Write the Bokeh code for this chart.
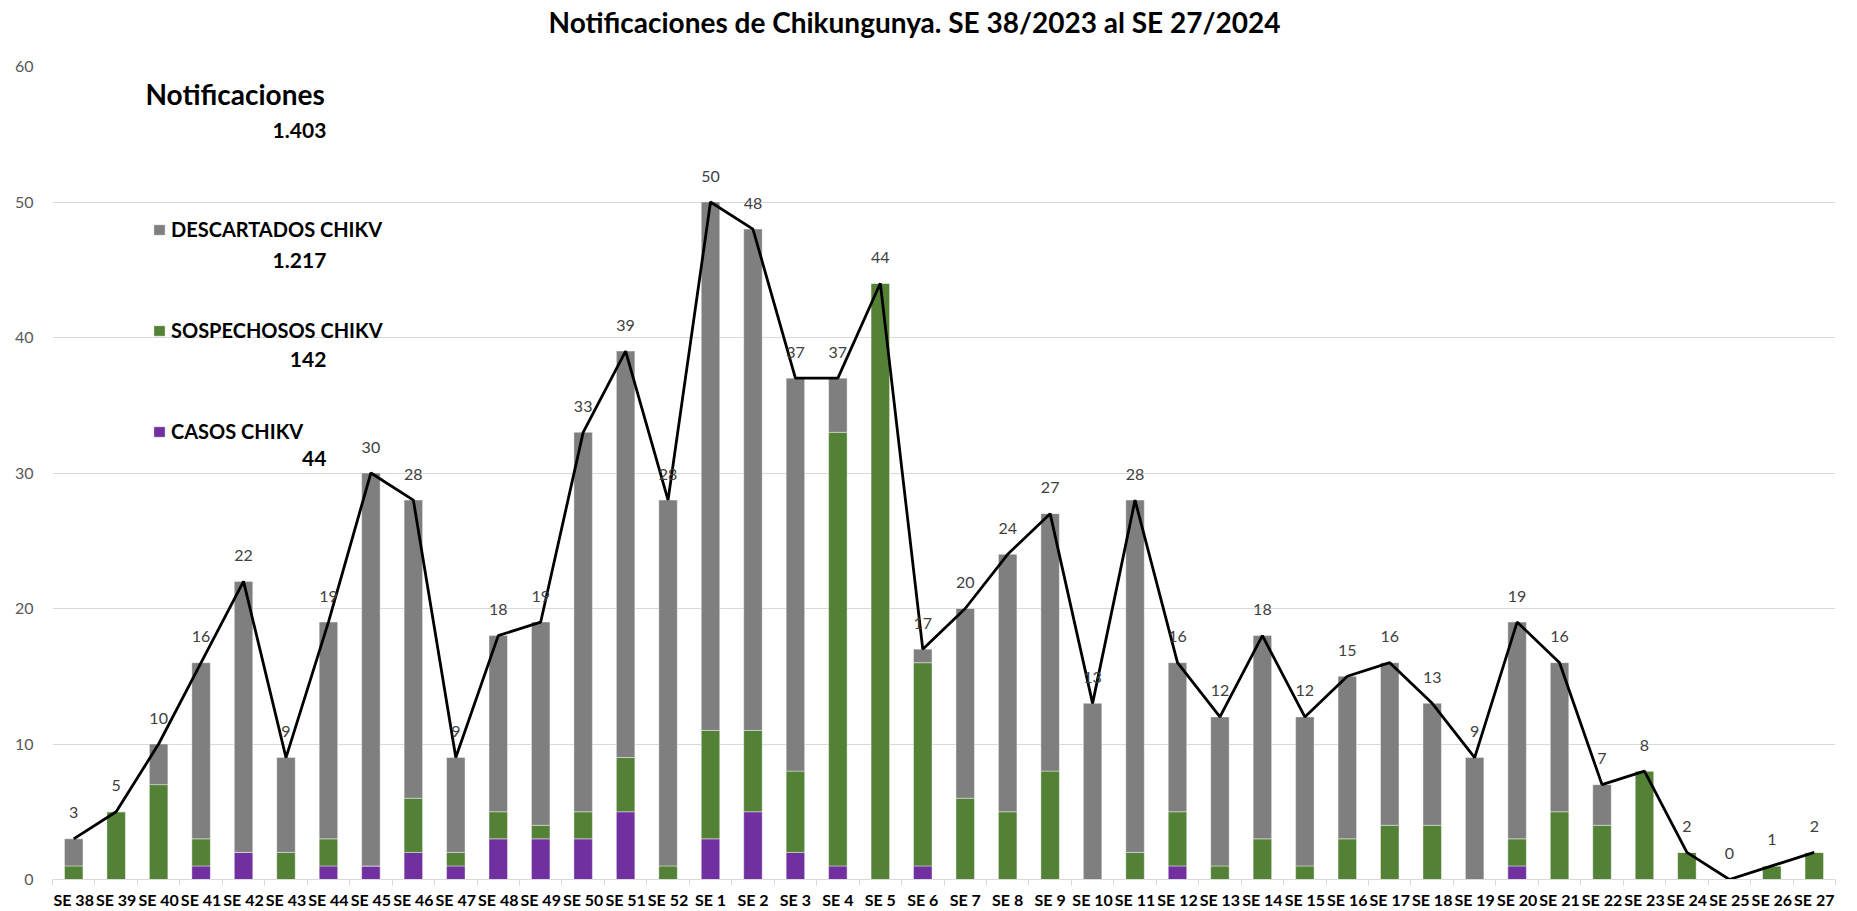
from bokeh.plotting import figure
from bokeh.models import (Range1d, FixedTicker, CustomJSTickFormatter, Legend,
                          LegendItem, Label, ColumnDataSource, Title)
from bokeh.embed import file_html
from bokeh.resources import INLINE
from bokeh.core.properties import value

# ---------------- data ----------------
weeks = ["SE 38", "SE 39", "SE 40", "SE 41", "SE 42", "SE 43", "SE 44", "SE 45",
         "SE 46", "SE 47", "SE 48", "SE 49", "SE 50", "SE 51", "SE 52",
         "SE 1", "SE 2", "SE 3", "SE 4", "SE 5", "SE 6", "SE 7", "SE 8", "SE 9",
         "SE 10", "SE 11", "SE 12", "SE 13", "SE 14", "SE 15", "SE 16", "SE 17",
         "SE 18", "SE 19", "SE 20", "SE 21", "SE 22", "SE 23", "SE 24", "SE 25",
         "SE 26", "SE 27"]

casos = [0, 0, 0, 1, 2, 0, 1, 1, 2, 1, 3, 3, 3, 5, 0,
         3, 5, 2, 1, 0, 1, 0, 0, 0, 0, 0, 1, 0, 0, 0, 0, 0, 0, 0, 1, 0, 0, 0, 0, 0, 0, 0]
sospechosos = [1, 5, 7, 2, 0, 2, 2, 0, 4, 1, 2, 1, 2, 4, 1,
               8, 6, 6, 32, 44, 15, 6, 5, 8, 0, 2, 4, 1, 3, 1, 3, 4, 4, 0, 2, 5, 4, 8, 2, 0, 1, 2]
descartados = [2, 0, 3, 13, 20, 7, 16, 29, 22, 7, 13, 15, 28, 30, 27,
               39, 37, 29, 4, 0, 1, 14, 19, 19, 13, 26, 11, 11, 15, 11, 12, 12, 9, 9, 16, 11, 3, 0, 0, 0, 0, 0]
totales = [3, 5, 10, 16, 22, 9, 19, 30, 28, 9, 18, 19, 33, 39, 28,
           50, 48, 37, 37, 44, 17, 20, 24, 27, 13, 28, 16, 12, 18, 12, 15, 16, 13, 9, 19, 16, 7, 8, 2, 0, 1, 2]

y_ticks = [0, 10, 20, 30, 40, 50, 60]

series_names = ["DESCARTADOS CHIKV", "SOSPECHOSOS CHIKV", "CASOS CHIKV"]
series_totals = ["1.217", "142", "44"]
notif_title = "Notificaciones"
notif_total = "1.403"
title_text = "Notificaciones de Chikungunya. SE 38/2023 al SE  27/2024"

# ---------------- styles ----------------
C_GRAY = "#7F7F7F"
C_GREEN = "#538135"
C_PURPLE = "#7030A0"
FONT = "Lato"

xs = list(range(len(weeks)))
src = ColumnDataSource(dict(x=xs, casos=casos, sosp=sospechosos, desc=descartados,
                            total=totales, lbl=[str(t) for t in totales]))

p = figure(width=1857, height=911,
           x_range=Range1d(-0.5, len(weeks) - 0.5), y_range=Range1d(0, 60),
           output_backend="svg", toolbar_location=None,
           min_border_left=52, min_border_right=22, min_border_top=66, min_border_bottom=24)
p.outline_line_color = None
p.background_fill_color = "white"

# default title unused (empty); real title stacked above a spacer
p.title.text = ""
p.title.standoff = 0
p.title.text_font_size = "0px"
spacer = Title(text=" ", text_font_size="20px", standoff=2, text_color="white")
main_title = Title(text=title_text, align="left", offset=496, standoff=4,
                   text_font=FONT, text_font_style="bold", text_font_size="28px",
                   text_color="black")
p.add_layout(spacer, "above")
p.add_layout(main_title, "above")

# axes
p.xaxis.ticker = FixedTicker(ticks=xs, minor_ticks=[i - 0.5 for i in range(len(weeks) + 1)])
p.xaxis.formatter = CustomJSTickFormatter(args=dict(labels=weeks),
                                          code="return labels[Math.round(tick)] || '';")
p.xaxis.axis_line_color = "#D9D9D9"
p.xaxis.axis_line_width = 1
p.xaxis.major_tick_line_color = None
p.xaxis.major_tick_out = 0
p.xaxis.major_tick_in = 0
p.xaxis.minor_tick_line_color = "#D9D9D9"
p.xaxis.minor_tick_out = 6
p.xaxis.minor_tick_in = 0
p.xaxis.major_label_text_font = FONT
p.xaxis.major_label_text_font_style = "bold"
p.xaxis.major_label_text_font_size = "16px"
p.xaxis.major_label_text_color = "black"
p.xaxis.major_label_standoff = 4

p.yaxis.ticker = FixedTicker(ticks=y_ticks)
p.yaxis.axis_line_color = None
p.yaxis.major_tick_line_color = None
p.yaxis.minor_tick_line_color = None
p.yaxis.major_tick_out = 0
p.yaxis.major_tick_in = 0
p.yaxis.major_label_text_font = FONT
p.yaxis.major_label_text_font_size = "16px"
p.yaxis.major_label_text_color = "#595959"
p.yaxis.major_label_standoff = 19

p.xgrid.visible = False
p.ygrid.ticker = FixedTicker(ticks=y_ticks)
p.ygrid.grid_line_color = "#D9D9D9"
p.ygrid.grid_line_width = 1

# bars
rs = p.vbar_stack(["casos", "sosp", "desc"], x="x", width=0.435, source=src,
                  fill_color=[C_PURPLE, C_GREEN, C_GRAY],
                  line_color="white", line_width=0.8, line_alpha=0.5)

# total line
p.line("x", "total", source=src, line_color="black", line_width=2.8)

# data labels
p.text("x", "total", text="lbl", source=src, text_align="center", text_baseline="middle",
       y_offset=-26, text_font=value(FONT), text_font_size="16px", text_color="#404040")

# legend-like block
legend = Legend(items=[LegendItem(label=series_names[0], renderers=[rs[2]]),
                       LegendItem(label=series_names[1], renderers=[rs[1]]),
                       LegendItem(label=series_names[2], renderers=[rs[0]])],
                location=(100, 436), orientation="vertical",
                glyph_width=14, glyph_height=13, label_standoff=5,
                label_text_font=FONT, label_text_font_style="bold",
                label_text_font_size="20px", label_text_color="black",
                spacing=77, padding=0, margin=0,
                border_line_color=None, background_fill_alpha=0)
p.add_layout(legend)

p.add_layout(Label(x=1.69, y=58.0, text=notif_title, text_align="left", text_baseline="middle",
                   text_font=FONT, text_font_style="bold", text_font_size="28px", text_color="black"))
for txt, yy in zip([notif_total] + series_totals, [55.3, 45.7, 38.4, 31.1]):
    p.add_layout(Label(x=5.95, y=yy, text=txt, text_align="right", text_baseline="middle",
                       text_font=FONT, text_font_style="bold", text_font_size="21px",
                       text_color="black"))

open("out.html", "w").write(file_html(p, INLINE))
